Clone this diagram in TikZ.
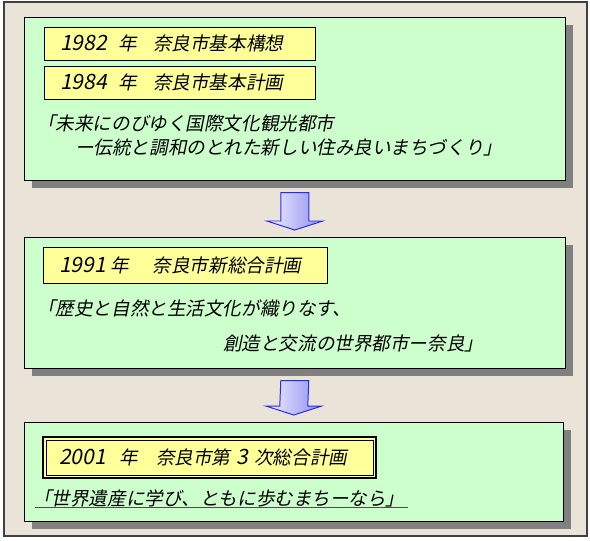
\documentclass[tikz,border=0pt]{standalone}
\usepackage{fontspec}
\setmainfont{Noto Sans CJK JP}[FakeSlant=0.2]
\usetikzlibrary{calc,shadows}
\definecolor{paper}{HTML}{EAE3D7}
\definecolor{panelgreen}{HTML}{CCFFCC}
\definecolor{boxyellow}{HTML}{FFFF99}
\definecolor{shadowgray}{HTML}{808080}
\definecolor{arrowblue}{HTML}{2A2AF5}
\definecolor{arrowlight}{HTML}{F2F2FF}
\definecolor{arrowdark}{HTML}{8C8CEE}
\newcommand{\pxlen}{0.025cm}
\newcommand{\titlesize}{\fontsize{13.2pt}{16pt}\selectfont}
\newcommand{\yearsize}{\fontsize{15pt}{16pt}\selectfont}
\newcommand{\slogansize}{\fontsize{13.2pt}{16pt}\selectfont}
% year, width of the year, gap after 年, plan name
\newcommand{\plantitle}[4]{\makebox[#2][l]{\yearsize #1}年\hspace{#3}#4}
\newcommand{\flowarrow}[2]{%
  \coordinate (#1top) at ($(#1.south)+(0,12)$);
  \coordinate (#1tip) at ($(#2.north)+(0,-7)$);
  \shade[left color=arrowlight, right color=arrowdark, draw=arrowblue, line width=0.7pt]
    ($(#1top)+(-14,0)$) -- ($(#1top)+(14,0)$) -- ($(#1tip)+(14,-9)$) -- ($(#1tip)+(28,-9)$)
    -- (#1tip) -- ($(#1tip)+(-28,-9)$) -- ($(#1tip)+(-14,-9)$) -- cycle;}
\tikzset{
  panel/.style={draw=black, fill=panelgreen, anchor=north west, inner sep=0pt,
    minimum width=541*\pxlen,
    drop shadow={shadow xshift=0.2cm, shadow yshift=-0.2cm, fill=shadowgray, opacity=1}},
  yearbox/.style={draw=black, fill=boxyellow, anchor=north west, inner xsep=16*\pxlen,
    inner ysep=0pt, minimum height=33*\pxlen, align=left, font=\titlesize},
  slogan/.style={anchor=west, inner sep=0pt, font=\slogansize}
}

\begin{document}
\begin{tikzpicture}[x=0.025cm, y=-0.025cm]
\useasboundingbox (0,0) rectangle (590,540);
% paper frame
\draw[fill=paper, draw=black!75, line width=0.8pt] (4,2) rectangle (587,536);

% three plan panels
\node[panel, minimum height=163*\pxlen] (p1) at (24,17) {};
\node[panel, minimum height=131*\pxlen] (p2) at (24,237) {};
\node[panel, minimum width=539*\pxlen, minimum height=99*\pxlen] (p3) at (24,422) {};

% 1982 / 1984
\node[yearbox, text width=239*\pxlen] (y82) at (44,27) {\plantitle{1982}{1.45cm}{0.41cm}{奈良市基本構想}};
\node[yearbox, text width=239*\pxlen] (y84) at (44,66) {\plantitle{1984}{1.45cm}{0.41cm}{奈良市基本計画}};
\node[slogan] (s1a) at (37,123) {「未来にのびゆく国際文化観光都市};
\node[slogan] (s1b) at (75,147) {ー伝統と調和のとれた新しい住み良いまちづくり」};

% 1991
\node[yearbox, text width=252*\pxlen, minimum height=36*\pxlen] (y91) at (43,247) {\plantitle{1991}{1.275cm}{0.6cm}{奈良市新総合計画}};
\node[slogan] (s2a) at (37,308) {「歴史と自然と生活文化が織りなす、};
\node[slogan] (s2b) at (223,343) {創造と交流の世界都市ー奈良」};

% 2001
\node[yearbox, line width=1.6pt, text width=301*\pxlen, minimum height=41*\pxlen] (y01) at (42,436) {\plantitle{2001}{1.5cm}{0.46cm}{奈良市第 {\yearsize 3} 次総合計画}};
\draw ($(y01.north west)+(4,4)$) rectangle ($(y01.south east)+(-4,-4)$);
\node[slogan] (s3) at (33,498) {「世界遺産に学び、ともに歩むまちーなら」};
\draw[black!70] ($(s3.west)+(2,9)$) -- ($(s3.east)+(3,9)$);

% arrows between panels
\flowarrow{p1}{p2}
\flowarrow{p2}{p3}
\end{tikzpicture}
\end{document}
